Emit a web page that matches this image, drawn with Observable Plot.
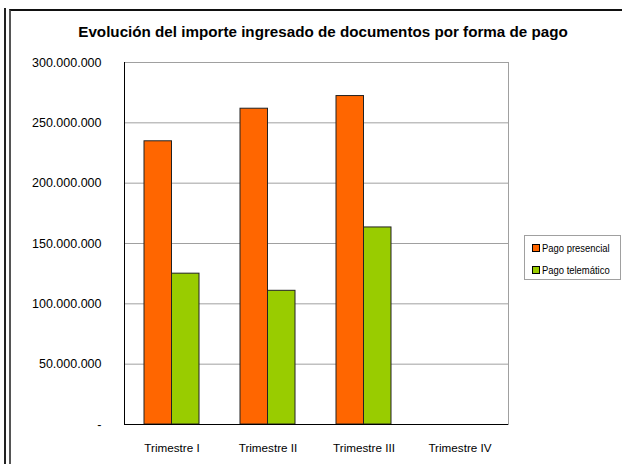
<!DOCTYPE html>
<html>
<head>
<meta charset="utf-8">
<script src="https://cdn.jsdelivr.net/npm/d3@7"></script>
<script src="https://cdn.jsdelivr.net/npm/@observablehq/plot@0.6"></script>
<style>
  html, body { margin: 0; padding: 0; background: #fff; }
  #wrap { position: relative; width: 622px; height: 464px; overflow: hidden; font-family: "Liberation Sans", Arial, sans-serif; }
  #edge1 { position: absolute; left: 4px; top: 8px; width: 2px; height: 470px; background: #222; }
  #edge2 { position: absolute; left: 9px; top: 9px; width: 640px; height: 480px; border-left: 2px solid #555; border-top: 2px solid #111; }
  #title { position: absolute; left: 0; top: 23px; width: 646px; text-align: center; font-weight: bold; font-size: 15.2px; color: #000; }
  #chart { position: absolute; left: 0; top: 0; }
  #legend { position: absolute; left: 524px; top: 235px; width: 95px; height: 43px; border: 1px solid #a0a0a0; background: #fff; font-size: 11.5px; color: #000; }
  .item { position: absolute; left: 7px; height: 14px; line-height: 14px; white-space: nowrap; }
  .sw { display: inline-block; width: 6px; height: 6px; border: 1px solid #000; margin-right: 2px; vertical-align: 0px; }
  .lab { display: inline-block; transform: scaleX(0.82); transform-origin: left center; }
</style>
</head>
<body>
<div id="wrap">
  <div id="edge1"></div>
  <div id="edge2"></div>
  <div id="chart"></div>
  <div id="title">Evolución del importe ingresado de documentos por forma de pago</div>
  <div id="legend"></div>
</div>
<script>
const quarters = ["Trimestre I", "Trimestre II", "Trimestre III", "Trimestre IV"];
const presencial = [234.7e6, 261.7e6, 272.2e6, null];
const telematico = [125.0e6, 110.8e6, 163.3e6, null];
const seriesNames = ["Pago presencial", "Pago telemático"];
const seriesColors = ["#FF6600", "#99CC00"];
const yTicks = [0, 50e6, 100e6, 150e6, 200e6, 250e6, 300e6];

const fmt = d3.formatLocale({decimal: ",", thousands: ".", grouping: [3], currency: ["", ""]}).format(",");
const rowsP = quarters.map((q, i) => ({q, v: presencial[i]})).filter(d => d.v != null);
const rowsT = quarters.map((q, i) => ({q, v: telematico[i]})).filter(d => d.v != null);

const plot = Plot.plot({
  width: 622,
  height: 464,
  marginLeft: 124,
  marginRight: 114,
  marginTop: 62,
  marginBottom: 40,
  style: {fontFamily: '"Liberation Sans", Arial, sans-serif', fontSize: "12.5px", color: "#000", background: "transparent"},
  x: {domain: quarters, paddingInner: 0.427, paddingOuter: 0.2135},
  y: {domain: [0, 300e6]},
  marks: [
    Plot.gridY(yTicks, {stroke: "#a0a0a0", strokeOpacity: 1}),
    Plot.frame({stroke: "#a0a0a0"}),
    Plot.barY(rowsP, {x: "q", y: "v", fill: seriesColors[0], stroke: "#222", strokeWidth: 1, insetRight: 27.5}),
    Plot.barY(rowsT, {x: "q", y: "v", fill: seriesColors[1], stroke: "#222", strokeWidth: 1, insetLeft: 27.5}),
    Plot.frame({anchor: "left", stroke: "#000"}),
    Plot.ruleY([0], {stroke: "#000"}),
    Plot.axisY({ticks: yTicks, tickSize: 0, tickPadding: 23, tickFormat: d => d === 0 ? "-" : fmt(d), label: null}),
    Plot.axisX({tickSize: 0, tickPadding: 19, fontSize: 11.7, label: null})
  ]
});
document.getElementById("chart").appendChild(plot);

const leg = document.getElementById("legend");
seriesNames.forEach((n, i) => {
  const it = document.createElement("div");
  it.className = "item";
  it.style.top = (5 + i * 22) + "px";
  it.innerHTML = `<span class="sw" style="background:${seriesColors[i]}"></span><span class="lab">${n}</span>`;
  leg.appendChild(it);
});
</script>
</body>
</html>
